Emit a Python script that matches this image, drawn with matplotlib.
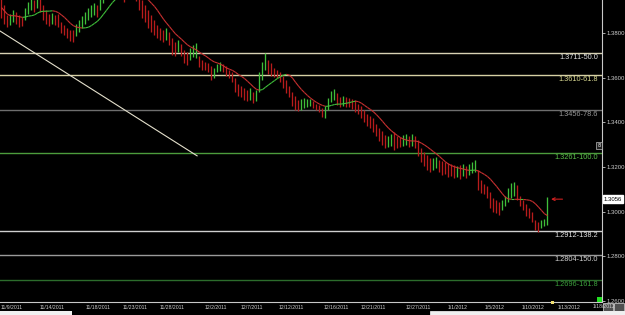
import numpy as np
import pandas as pd
import matplotlib
matplotlib.use('Agg')
import matplotlib.pyplot as plt
from matplotlib.collections import LineCollection
from matplotlib.patches import Rectangle

# bar highs / lows (oldest first)
highs = [1.3961, 1.3926, 1.3881, 1.3885, 1.3903, 1.3894, 1.3881, 1.3872, 1.3912, 1.3939,
         1.3957, 1.3948, 1.3961, 1.3952, 1.3926, 1.3903, 1.3885, 1.3890, 1.3881, 1.3885,
         1.3849, 1.3836, 1.3823, 1.3814, 1.3814, 1.3840, 1.3858, 1.3876, 1.3894, 1.3912,
         1.3926, 1.3935, 1.3926, 1.3957, 1.3984, 1.4015, 1.4038, 1.4047, 1.4038, 1.4015,
         1.4011, 1.3993, 1.4011, 1.4020, 1.4011, 1.3993, 1.3966, 1.3948, 1.3926, 1.3903,
         1.3881, 1.3858, 1.3836, 1.3823, 1.3814, 1.3823, 1.3805, 1.3778, 1.3760, 1.3769,
         1.3751, 1.3724, 1.3715, 1.3733, 1.3746, 1.3755, 1.3697, 1.3679, 1.3670, 1.3666,
         1.3652, 1.3643, 1.3661, 1.3670, 1.3661, 1.3652, 1.3634, 1.3625, 1.3599, 1.3572,
         1.3563, 1.3554, 1.3545, 1.3554, 1.3536, 1.3545, 1.3625, 1.3670, 1.3711, 1.3679,
         1.3666, 1.3643, 1.3634, 1.3625, 1.3607, 1.3590, 1.3563, 1.3536, 1.3518, 1.3500,
         1.3504, 1.3509, 1.3504, 1.3504, 1.3495, 1.3482, 1.3478, 1.3464, 1.3473, 1.3509,
         1.3540, 1.3549, 1.3531, 1.3513, 1.3518, 1.3513, 1.3509, 1.3504, 1.3500, 1.3482,
         1.3473, 1.3455, 1.3437, 1.3428, 1.3419, 1.3392, 1.3375, 1.3361, 1.3343, 1.3339,
         1.3348, 1.3357, 1.3339, 1.3334, 1.3343, 1.3348, 1.3339, 1.3348, 1.3339, 1.3321,
         1.3285, 1.3267, 1.3254, 1.3240, 1.3240, 1.3245, 1.3231, 1.3227, 1.3222, 1.3218,
         1.3213, 1.3209, 1.3204, 1.3209, 1.3213, 1.3204, 1.3213, 1.3222, 1.3231, 1.3186,
         1.3142, 1.3124, 1.3115, 1.3088, 1.3061, 1.3052, 1.3043, 1.3052, 1.3070, 1.3106,
         1.3128, 1.3133, 1.3120, 1.3070, 1.3052, 1.3034, 1.3016, 1.2998, 1.2962, 1.2953,
         1.2962, 1.2967, 1.3065]
lows = [1.3867, 1.3840, 1.3827, 1.3836, 1.3849, 1.3840, 1.3827, 1.3832, 1.3858, 1.3885,
        1.3903, 1.3894, 1.3912, 1.3894, 1.3858, 1.3840, 1.3832, 1.3840, 1.3836, 1.3827,
        1.3800, 1.3791, 1.3778, 1.3764, 1.3760, 1.3787, 1.3805, 1.3823, 1.3840, 1.3858,
        1.3872, 1.3881, 1.3872, 1.3903, 1.3935, 1.3961, 1.3984, 1.3993, 1.3975, 1.3961,
        1.3957, 1.3939, 1.3957, 1.3966, 1.3957, 1.3944, 1.3903, 1.3867, 1.3849, 1.3823,
        1.3805, 1.3791, 1.3778, 1.3769, 1.3760, 1.3769, 1.3746, 1.3702, 1.3697, 1.3715,
        1.3697, 1.3666, 1.3657, 1.3679, 1.3693, 1.3688, 1.3648, 1.3634, 1.3634, 1.3625,
        1.3590, 1.3599, 1.3625, 1.3630, 1.3625, 1.3607, 1.3599, 1.3581, 1.3536, 1.3518,
        1.3513, 1.3500, 1.3495, 1.3500, 1.3487, 1.3495, 1.3536, 1.3590, 1.3634, 1.3616,
        1.3607, 1.3603, 1.3599, 1.3581, 1.3554, 1.3531, 1.3513, 1.3473, 1.3455, 1.3451,
        1.3455, 1.3464, 1.3469, 1.3473, 1.3464, 1.3455, 1.3446, 1.3424, 1.3419, 1.3455,
        1.3491, 1.3500, 1.3478, 1.3469, 1.3473, 1.3469, 1.3469, 1.3460, 1.3446, 1.3437,
        1.3419, 1.3401, 1.3383, 1.3375, 1.3357, 1.3339, 1.3316, 1.3298, 1.3285, 1.3289,
        1.3294, 1.3276, 1.3285, 1.3289, 1.3294, 1.3298, 1.3289, 1.3294, 1.3285, 1.3249,
        1.3222, 1.3204, 1.3186, 1.3177, 1.3186, 1.3195, 1.3177, 1.3164, 1.3168, 1.3155,
        1.3159, 1.3150, 1.3155, 1.3146, 1.3159, 1.3150, 1.3164, 1.3173, 1.3177, 1.3097,
        1.3083, 1.3079, 1.3061, 1.3016, 1.2998, 1.2994, 1.2985, 1.3007, 1.3025, 1.3043,
        1.3061, 1.3070, 1.3052, 1.3025, 1.3007, 1.2980, 1.2971, 1.2953, 1.2918, 1.2909,
        1.2927, 1.2936, 1.2940]
last_price = 1.3056
ma_period = 10

# fibonacci projection levels
fib_prices = [1.3711, 1.3610, 1.3456, 1.3261, 1.2912, 1.2804, 1.2696]
fib_levels = ['50.0', '61.8', '78.6', '100.0', '138.2', '150.0', '161.8']
fib_line_colors = ['#d8d2b4', '#d6d0a4', '#6e6e6e', '#4c9c3c', '#cfcfcf', '#9a9a9a', '#2c6c2c']
fib_text_colors = ['#e0e0e0', '#d8d890', '#9a9a9a', '#5cc04c', '#e0e0e0', '#d0d0d0', '#3ca03c']

# trendline anchors (bar index, price)
trend_bars = [-0.5, 65.2]
trend_prices = [1.3809, 1.3250]

price_ticks = [1.38, 1.36, 1.34, 1.32, 1.30, 1.28, 1.26]
date_labels = ['11/9/2011', '11/14/2011', '11/18/2011', '11/23/2011', '11/28/2011',
               '12/2/2011', '12/7/2011', '12/12/2011', '12/16/2011', '12/21/2011',
               '12/27/2011', '1/1/2012', '1/5/2012', '1/10/2012', '1/13/2012']
date_bars = [3.5, 16.8, 32.2, 44.5, 56.8, 71.5, 83.5, 96.5, 111.5, 123.8,
             138.8, 152.2, 164.5, 177.2, 189.2]

narrow = ['Liberation Sans Narrow', 'Liberation Sans', 'DejaVu Sans']
GREEN = '#3fbf3a'
RED = '#b81c1c'

df = pd.DataFrame({'high': highs, 'low': lows})
df['mid'] = (df['high'] + df['low']) / 2
df['ma'] = df['mid'].rolling(ma_period, min_periods=1).mean()
x = np.arange(len(df))
bar_colors = [GREEN if i > 0 and df['mid'][i] >= df['mid'][i - 1] else RED for i in range(len(df))]

fig = plt.figure(figsize=(6.25, 3.15), dpi=100, facecolor='black')
ax = fig.add_axes([0, 13 / 315, 602 / 625, 302 / 315], facecolor='black')
ax.set_xlim(-0.5, 200.17)
ax.set_ylim(1.25955, 1.39478)

# fib lines + labels
for p, lvl, lc, tc in zip(fib_prices, fib_levels, fib_line_colors, fib_text_colors):
    ax.axhline(p, color=lc, lw=1.0, zorder=1)
    ax.annotate(f'{p:.4f}-{lvl}', xy=(1, p), xycoords=('axes fraction', 'data'),
                xytext=(-4, -1), textcoords='offset pixels', ha='right', va='top',
                fontsize=5.3, color=tc, family=narrow)

ax.plot(trend_bars, trend_prices, color='#e4e0cc', lw=0.8, zorder=2)

# price bars
ax.vlines(x, df['low'], df['high'], colors=bar_colors, lw=0.95, zorder=3)

# moving average coloured by slope
pts = np.column_stack([x, df['ma']])
segs = np.stack([pts[:-1], pts[1:]], axis=1)
ma_cols = [GREEN if b >= a else '#c83030' for a, b in zip(df['ma'][:-1], df['ma'][1:])]
ax.add_collection(LineCollection(segs, colors=ma_cols, lw=0.8, zorder=4))

# last price marker
n = len(df)
ax.annotate('', xy=(n - 1 + 1.2, last_price), xytext=(n - 1 + 5.0, last_price),
            arrowprops=dict(arrowstyle='->', color='#d02020', lw=0.8,
                            shrinkA=0, shrinkB=0, mutation_scale=5), zorder=5)
ax.annotate(f'{last_price:.4f}', xy=(1, last_price), xycoords=('axes fraction', 'data'),
            xytext=(2, 0), textcoords='offset pixels', ha='left', va='center',
            fontsize=4.3, color='black', family=narrow, annotation_clip=False,
            bbox=dict(boxstyle='square,pad=0.2', fc='white', ec='white'))

# axes styling
for s in ['top', 'left']:
    ax.spines[s].set_visible(False)
ax.spines['right'].set_color('#c8c8c8')
ax.spines['bottom'].set_color('#c8c8c8')
ax.spines['right'].set_linewidth(0.8)
ax.spines['bottom'].set_linewidth(0.8)
ax.yaxis.tick_right()
ax.set_yticks(price_ticks)
ax.set_yticklabels([f'{p:.4f}' for p in price_ticks], fontsize=4.3, color='#cfcfcf', family=narrow)
ax.tick_params(axis='y', length=2, width=0.6, color='#c8c8c8', pad=1.5)
ax.set_xticks(date_bars)
ax.set_xticklabels(date_labels, fontsize=3.7, color='#cfcfcf', family=narrow)
ax.tick_params(axis='x', length=0, pad=2.0)

# small screen widgets
def px_rect(x0, y0, w, h, **kw):
    fig.patches.append(Rectangle((x0 / 625, 1 - (y0 + h) / 315), w / 625, h / 315,
                                 transform=fig.transFigure, figure=fig, **kw))

px_rect(597, 297, 5, 5, fc='#22e022', ec='none')
px_rect(551, 300.5, 3, 3, fc='#f0e070', ec='none')
px_rect(596, 142, 6, 7, fc='#202020', ec='#bbbbbb', lw=0.5)
fig.text(599 / 625, 1 - 145.5 / 315, '8', fontsize=3.5, color='white', ha='center', va='center')
fig.text(593 / 625, 1 - 307 / 315, '1/18/2012', fontsize=3.7, color='#cfcfcf', ha='left',
         va='center', family=narrow)
px_rect(603, 303, 10, 8, fc='#505050', ec='#e0e0e0', lw=0.5)
px_rect(614, 303, 10, 8, fc='#505050', ec='#e0e0e0', lw=0.5)
px_rect(0, 311, 72, 4, fc='#f0f0f0', ec='none')
px_rect(430, 311, 195, 4, fc='#f0f0f0', ec='#ffffff', lw=0.5)

fig.savefig('out.png', dpi=100, facecolor='black')
